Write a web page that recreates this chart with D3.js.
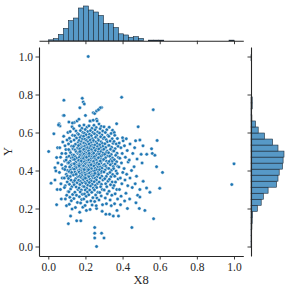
<!DOCTYPE html>
<html><head><meta charset="utf-8">
<script src="https://cdn.jsdelivr.net/npm/d3@7"></script>
<style>body{margin:0;background:#fff}svg{display:block}</style>
</head><body><svg id="c" width="291" height="291" font-family="'Liberation Serif', 'DejaVu Serif', serif"></svg>
<script>
const xLabel = "X8", yLabel = "Y";
const tickValues = [0, 0.2, 0.4, 0.6, 0.8, 1.0];
const tickLabels = ["0.0", "0.2", "0.4", "0.6", "0.8", "1.0"];
// marginal histogram of X8: bins start at 0, width 1/37
const xBinStart = 0, xBinWidth = 1 / 37;
const xCounts = [3,7,22,43,70,79,114,121,107,100,88,60,60,46,24,20,12,14,8,0,2,2,2,0,0,0,0,0,0,0,0,0,0,0,0,0,2];
// marginal histogram of Y
const yBinStart = -0.005, yBinWidth = 0.0317;
const yCounts = [1,2,2,3,4,5,21,34,41,57,85,90,94,105,107,110,90,72,45,24,15,3,2,4,4,0,0,0,0,0,0,1];
// scatter points [X8, Y]
const points = [
[0.002,0.50],[0.015,0.333],[0.03,0.593],[0.045,0.22],[0.036,0.415],[0.045,0.468],[0.041,0.398],[0.036,0.35],[0.05,0.52],[0.048,0.30],[0.052,0.44],
[0.058,0.646],[0.063,0.634],[0.055,0.64],[0.07,0.25],[0.062,0.52],[0.066,0.47],[0.072,0.43],[0.06,0.39],[0.075,0.36],[0.068,0.33],[0.078,0.55],[0.073,0.49],[0.065,0.30],[0.079,0.41],[0.081,0.69],
[0.084,0.77],[0.085,0.69],[0.083,0.58],[0.09,0.53],[0.095,0.51],[0.1,0.47],[0.088,0.45],[0.093,0.42],[0.104,0.40],[0.097,0.38],[0.086,0.36],[0.102,0.34],[0.091,0.32],[0.107,0.29],[0.099,0.27],[0.094,0.49],[0.105,0.44],[0.089,0.405],[0.101,0.56],[0.106,0.6],[0.092,0.25],[0.098,0.215],[0.087,0.31],[0.103,0.37],[0.096,0.455],[0.108,0.12],
[0.111,0.655],[0.128,0.63],[0.118,0.605],[0.131,0.585],[0.114,0.57],[0.122,0.552],[0.109,0.54],[0.126,0.528],[0.133,0.515],[0.116,0.503],[0.12,0.494],[0.129,0.482],[0.112,0.475],[0.124,0.466],[0.134,0.458],[0.117,0.449],[0.11,0.441],[0.127,0.433],[0.121,0.426],[0.115,0.418],[0.132,0.41],[0.119,0.402],[0.113,0.394],[0.125,0.386],[0.13,0.377],[0.118,0.368],[0.109,0.358],[0.123,0.349],[0.135,0.338],[0.114,0.327],[0.127,0.315],[0.12,0.302],[0.111,0.288],[0.131,0.274],[0.116,0.259],[0.124,0.241],[0.113,0.222],[0.128,0.197],[0.12,0.16],[0.133,0.47],[0.11,0.51],[0.126,0.39],
[0.14,0.652],[0.155,0.66],[0.13,0.65],[0.153,0.135],[0.137,0.62],[0.149,0.608],[0.158,0.595],[0.143,0.583],[0.152,0.571],[0.139,0.56],[0.161,0.549],[0.146,0.538],[0.136,0.527],[0.156,0.517],[0.144,0.508],[0.15,0.499],[0.159,0.49],[0.138,0.481],[0.147,0.473],[0.154,0.465],[0.141,0.458],[0.16,0.45],[0.148,0.443],[0.137,0.436],[0.157,0.429],[0.145,0.422],[0.151,0.415],[0.14,0.407],[0.162,0.4],[0.144,0.392],[0.153,0.384],[0.136,0.376],[0.158,0.367],[0.147,0.357],[0.142,0.347],[0.155,0.336],[0.139,0.325],[0.15,0.313],[0.16,0.3],[0.143,0.286],[0.152,0.27],[0.138,0.252],[0.157,0.232],[0.146,0.205],[0.14,0.435],[0.159,0.52],[0.149,0.38],
[0.165,0.67],[0.17,0.73],[0.183,0.78],[0.175,0.135],[0.188,0.76],
[0.168,0.635],[0.181,0.622],[0.173,0.61],[0.186,0.6],[0.164,0.59],[0.177,0.582],[0.171,0.574],[0.184,0.566],[0.166,0.558],[0.179,0.551],[0.188,0.544],[0.172,0.537],[0.163,0.531],[0.182,0.525],[0.175,0.519],[0.169,0.513],[0.187,0.507],[0.178,0.501],[0.165,0.496],[0.183,0.49],[0.174,0.485],[0.17,0.479],[0.185,0.474],[0.167,0.469],[0.18,0.463],[0.176,0.458],[0.164,0.453],[0.189,0.448],[0.172,0.443],[0.181,0.438],[0.168,0.433],[0.177,0.428],[0.186,0.423],[0.165,0.418],[0.174,0.413],[0.183,0.408],[0.17,0.403],[0.179,0.398],[0.166,0.392],[0.187,0.387],[0.173,0.381],[0.182,0.375],[0.168,0.369],[0.177,0.363],[0.185,0.356],[0.164,0.349],[0.175,0.342],[0.181,0.334],[0.17,0.326],[0.187,0.317],[0.166,0.308],[0.178,0.298],[0.172,0.287],[0.184,0.275],[0.167,0.262],[0.18,0.247],[0.174,0.229],[0.186,0.207],[0.169,0.18],[0.178,0.45],[0.171,0.5],[0.184,0.39],[0.166,0.425],
[0.215,1.0],[0.194,0.75],[0.2,0.69],[0.205,0.19],
[0.192,0.64],[0.208,0.628],[0.199,0.616],[0.213,0.605],[0.195,0.596],[0.204,0.588],[0.19,0.58],[0.211,0.572],[0.197,0.565],[0.206,0.558],[0.215,0.551],[0.193,0.545],[0.202,0.539],[0.209,0.533],[0.196,0.527],[0.212,0.521],[0.2,0.516],[0.191,0.511],[0.207,0.506],[0.214,0.501],[0.198,0.496],[0.205,0.491],[0.193,0.486],[0.21,0.481],[0.201,0.477],[0.196,0.472],[0.213,0.467],[0.19,0.463],[0.207,0.458],[0.199,0.454],[0.204,0.45],[0.194,0.445],[0.211,0.441],[0.202,0.437],[0.197,0.432],[0.215,0.428],[0.191,0.424],[0.206,0.419],[0.2,0.415],[0.209,0.41],[0.195,0.406],[0.203,0.401],[0.212,0.396],[0.192,0.391],[0.198,0.386],[0.208,0.381],[0.2,0.376],[0.214,0.37],[0.194,0.364],[0.205,0.358],[0.19,0.352],[0.21,0.345],[0.197,0.338],[0.203,0.331],[0.213,0.323],[0.193,0.315],[0.207,0.306],[0.199,0.297],[0.211,0.287],[0.195,0.276],[0.204,0.264],[0.191,0.25],[0.209,0.235],[0.198,0.216],[0.206,0.47],[0.193,0.405],[0.212,0.52],[0.2,0.36],
[0.23,0.66],[0.224,0.66],[0.242,0.665],[0.242,0.704],
[0.219,0.635],[0.235,0.622],[0.227,0.61],[0.24,0.6],[0.222,0.591],[0.232,0.583],[0.218,0.575],[0.238,0.567],[0.226,0.56],[0.243,0.553],[0.23,0.546],[0.22,0.539],[0.236,0.533],[0.228,0.527],[0.241,0.521],[0.223,0.515],[0.233,0.509],[0.217,0.503],[0.239,0.497],[0.229,0.492],[0.225,0.486],[0.237,0.481],[0.221,0.476],[0.234,0.47],[0.242,0.465],[0.227,0.46],[0.218,0.455],[0.231,0.45],[0.24,0.445],[0.224,0.44],[0.236,0.435],[0.229,0.43],[0.22,0.425],[0.238,0.42],[0.226,0.415],[0.233,0.409],[0.217,0.404],[0.241,0.398],[0.228,0.392],[0.222,0.386],[0.235,0.38],[0.23,0.374],[0.219,0.367],[0.239,0.36],[0.225,0.353],[0.232,0.345],[0.221,0.337],[0.237,0.328],[0.227,0.318],[0.242,0.308],[0.223,0.297],[0.234,0.285],[0.218,0.272],[0.24,0.257],[0.229,0.24],[0.236,0.218],[0.225,0.195],[0.231,0.43],[0.22,0.49],[0.238,0.37],
[0.25,0.70],[0.26,0.713],[0.26,0.67],[0.263,0.66],[0.25,0.10],[0.25,0.07],[0.26,0.0],[0.25,0.045],[0.26,0.2],
[0.246,0.638],[0.258,0.626],[0.252,0.614],[0.266,0.603],[0.249,0.593],[0.261,0.584],[0.255,0.575],[0.268,0.566],[0.244,0.558],[0.257,0.55],[0.263,0.542],[0.25,0.534],[0.265,0.526],[0.247,0.519],[0.259,0.512],[0.253,0.505],[0.269,0.498],[0.245,0.491],[0.262,0.485],[0.256,0.478],[0.248,0.472],[0.267,0.466],[0.254,0.46],[0.26,0.454],[0.244,0.448],[0.264,0.442],[0.251,0.436],[0.258,0.43],[0.246,0.424],[0.266,0.418],[0.253,0.411],[0.261,0.404],[0.249,0.397],[0.268,0.39],[0.256,0.383],[0.245,0.375],[0.263,0.367],[0.252,0.359],[0.259,0.35],[0.247,0.341],[0.265,0.331],[0.254,0.321],[0.261,0.31],[0.248,0.298],[0.267,0.285],[0.255,0.271],[0.262,0.255],[0.25,0.237],[0.258,0.215],[0.264,0.44],[0.251,0.385],
[0.274,0.722],[0.287,0.731],[0.28,0.73],[0.27,0.72],[0.287,0.07],[0.29,0.185],
[0.273,0.645],[0.285,0.632],[0.279,0.62],[0.293,0.608],[0.276,0.597],[0.289,0.587],[0.282,0.577],[0.296,0.568],[0.271,0.559],[0.284,0.551],[0.291,0.543],[0.277,0.535],[0.294,0.527],[0.28,0.52],[0.272,0.513],[0.288,0.506],[0.283,0.499],[0.295,0.492],[0.275,0.486],[0.29,0.479],[0.281,0.473],[0.27,0.467],[0.286,0.46],[0.292,0.454],[0.278,0.447],[0.284,0.44],[0.273,0.433],[0.296,0.426],[0.281,0.419],[0.289,0.412],[0.276,0.404],[0.293,0.396],[0.284,0.388],[0.271,0.379],[0.288,0.37],[0.279,0.36],[0.294,0.35],[0.274,0.339],[0.286,0.327],[0.282,0.314],[0.291,0.3],[0.277,0.284],[0.285,0.266],[0.273,0.245],[0.292,0.22],[0.28,0.45],[0.288,0.395],
[0.30,0.045],[0.31,0.17],
[0.3,0.63],[0.315,0.615],[0.307,0.6],[0.321,0.586],[0.302,0.574],[0.312,0.562],[0.318,0.551],[0.305,0.541],[0.323,0.531],[0.309,0.521],[0.299,0.512],[0.316,0.503],[0.311,0.494],[0.304,0.485],[0.32,0.476],[0.308,0.467],[0.298,0.458],[0.314,0.449],[0.322,0.44],[0.303,0.431],[0.31,0.422],[0.317,0.412],[0.306,0.402],[0.3,0.392],[0.319,0.381],[0.312,0.369],[0.304,0.357],[0.321,0.344],[0.309,0.33],[0.315,0.315],[0.301,0.298],[0.318,0.278],[0.307,0.255],[0.313,0.225],
[0.346,0.612],[0.33,0.17],[0.35,0.16],
[0.328,0.628],[0.338,0.595],[0.326,0.58],[0.344,0.567],[0.333,0.555],[0.349,0.543],[0.327,0.532],[0.341,0.522],[0.335,0.512],[0.348,0.502],[0.325,0.493],[0.339,0.484],[0.331,0.475],[0.346,0.466],[0.336,0.457],[0.328,0.448],[0.343,0.439],[0.334,0.43],[0.35,0.421],[0.326,0.411],[0.34,0.401],[0.332,0.39],[0.347,0.379],[0.337,0.367],[0.329,0.354],[0.344,0.34],[0.335,0.325],[0.349,0.309],[0.327,0.291],[0.342,0.27],[0.333,0.245],[0.339,0.215],[0.345,0.45],
[0.355,0.60],[0.368,0.646],[0.37,0.19],
[0.358,0.585],[0.372,0.568],[0.354,0.553],[0.366,0.54],[0.376,0.527],[0.36,0.515],[0.353,0.503],[0.37,0.491],[0.363,0.48],[0.377,0.469],[0.356,0.457],[0.368,0.446],[0.36,0.434],[0.374,0.422],[0.352,0.41],[0.365,0.397],[0.371,0.384],[0.358,0.37],[0.376,0.355],[0.362,0.339],[0.354,0.321],[0.369,0.3],[0.36,0.277],[0.373,0.25],[0.357,0.225],
[0.395,0.785],[0.40,0.572],[0.403,0.556],[0.382,0.545],[0.391,0.52],[0.398,0.49],[0.385,0.465],[0.394,0.44],[0.38,0.418],[0.401,0.39],[0.388,0.36],[0.396,0.33],[0.383,0.3],[0.392,0.265],[0.389,0.22],[0.378,0.16],
[0.42,0.567],[0.41,0.53],[0.425,0.505],[0.415,0.47],[0.43,0.445],[0.408,0.41],[0.422,0.38],[0.413,0.35],[0.428,0.32],[0.418,0.28],[0.411,0.24],[0.426,0.2],
[0.45,0.10],[0.44,0.54],[0.455,0.49],[0.436,0.455],[0.448,0.4],[0.44,0.36],[0.452,0.31],[0.438,0.25],
[0.484,0.63],[0.47,0.556],[0.465,0.52],[0.478,0.46],[0.462,0.42],[0.475,0.37],[0.468,0.33],[0.481,0.27],[0.472,0.23],
[0.49,0.2],[0.493,0.30],[0.493,0.26],[0.5,0.485],[0.511,0.343],[0.51,0.53],[0.493,0.56],[0.505,0.44],
[0.529,0.308],[0.53,0.485],[0.52,0.19],[0.547,0.285],[0.556,0.514],[0.56,0.49],[0.567,0.146],[0.565,0.72],[0.574,0.48],[0.583,0.42],[0.586,0.558],[0.6,0.306],[0.615,0.39],
[0.988,0.326],[1.0,0.435]
];

const svg = d3.select("#c");
const ink = "#262626";
const serif = "'Liberation Serif', 'DejaVu Serif', serif";
const main = {left: 39, right: 243.3, top: 47, bottom: 256};
const x = d3.scaleLinear().domain([-0.05, 1.05]).range([main.left, main.right]);
const y = d3.scaleLinear().domain([-0.05, 1.05]).range([main.bottom, main.top]);

const margXBase = 40.7;
const cx = d3.scaleLinear().domain([0, d3.max(xCounts)]).range([margXBase, 6]);
const margYBase = 251;
const cy = d3.scaleLinear().domain([0, d3.max(yCounts)]).range([margYBase, 284]);

const barFill = "#5799c7", barStroke = "#1c2a38";
svg.append("g").selectAll("rect").data(xCounts.map((c, i) => ({c, i})).filter(d => d.c > 0))
  .join("rect")
  .attr("x", d => x(xBinStart + d.i * xBinWidth))
  .attr("width", d => x(xBinStart + (d.i + 1) * xBinWidth) - x(xBinStart + d.i * xBinWidth))
  .attr("y", d => cx(d.c)).attr("height", d => margXBase - cx(d.c))
  .attr("fill", barFill).attr("stroke", barStroke).attr("stroke-width", 0.6);

svg.append("g").selectAll("rect").data(yCounts.map((c, i) => ({c, i})).filter(d => d.c > 0))
  .join("rect")
  .attr("y", d => y(yBinStart + (d.i + 1) * yBinWidth))
  .attr("height", d => y(yBinStart + d.i * yBinWidth) - y(yBinStart + (d.i + 1) * yBinWidth))
  .attr("x", margYBase).attr("width", d => cy(d.c) - margYBase)
  .attr("fill", barFill).attr("stroke", barStroke).attr("stroke-width", 0.6);

svg.append("g").selectAll("circle").data(points).join("circle")
  .attr("cx", d => x(d[0])).attr("cy", d => y(d[1])).attr("r", 1.75)
  .attr("fill", "#1f77b4").attr("stroke", "#fff").attr("stroke-width", 0.45);

function styleAxis(g) {
  g.attr("font-family", serif).attr("font-size", 11.5);
  g.selectAll(".domain").attr("stroke", ink).attr("stroke-width", 1.1);
  g.selectAll(".tick line").attr("stroke", ink).attr("stroke-width", 0.9);
  g.selectAll(".tick text").attr("fill", ink).attr("font-family", serif);
}
const fmt = (d, i) => tickLabels[i];
svg.append("g").attr("transform", `translate(0,${main.bottom})`)
  .call(d3.axisBottom(x).tickValues(tickValues).tickFormat(fmt).tickSize(3.5).tickSizeOuter(0).tickPadding(3))
  .call(styleAxis);
svg.append("g").attr("transform", `translate(${main.left},0)`)
  .call(d3.axisLeft(y).tickValues(tickValues).tickFormat(fmt).tickSize(3.5).tickSizeOuter(0).tickPadding(2.5))
  .call(styleAxis);
svg.append("g").attr("transform", `translate(0,${margXBase})`)
  .call(d3.axisBottom(x).tickValues(tickValues).tickFormat("").tickSize(3.5).tickSizeOuter(0))
  .call(styleAxis);
svg.append("g").attr("transform", `translate(${margYBase},0)`)
  .call(d3.axisLeft(y).tickValues(tickValues).tickFormat("").tickSize(3.5).tickSizeOuter(0))
  .call(styleAxis);

svg.append("text").attr("x", (main.left + main.right) / 2).attr("y", 283.5)
  .attr("text-anchor", "middle").attr("font-family", serif).attr("font-size", 12.5).attr("fill", ink).text(xLabel);
svg.append("text").attr("transform", `translate(11.5,${(main.top + main.bottom) / 2}) rotate(-90)`)
  .attr("text-anchor", "middle").attr("font-family", serif).attr("font-size", 12.5).attr("fill", ink).text(yLabel);
</script></body></html>
